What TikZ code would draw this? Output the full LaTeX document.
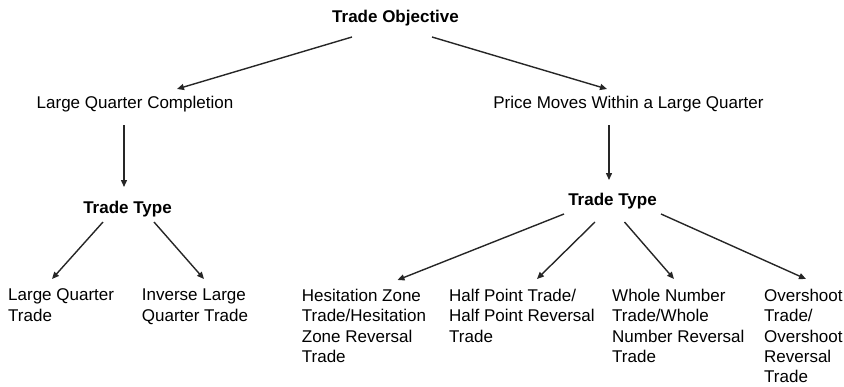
\documentclass[tikz,border=0pt]{standalone}
\usepackage{fontspec}
\setmainfont{Liberation Sans}
\usetikzlibrary{arrows.meta}
\begin{document}
\begin{tikzpicture}[x=1pt,y=-1pt,
  lbl/.style={inner sep=0pt, font=\fontsize{17}{20.4}\selectfont, text=black},
  hd/.style={lbl, font=\fontsize{17}{20.4}\selectfont\bfseries},
  leaf/.style={lbl, align=left, anchor=north west},
  arr/.style={draw=black!85, line width=1.4pt, -{Triangle[length=7pt,width=6pt]}}]
\useasboundingbox (0,0) rectangle (844,386);
\node[hd, anchor=base] (obj) at (395.5,22) {Trade Objective};
\node[lbl, anchor=base] (lqc) at (135,108) {Large Quarter Completion};
\node[lbl, anchor=base] (pmw) at (628.5,108) {Price Moves Within a Large Quarter};
\node[hd, anchor=base] (ttl) at (127.5,213) {Trade Type};
\node[hd, anchor=base] (ttr) at (612.5,205) {Trade Type};
\node[leaf] (lqt) at (8,288.7) {Large Quarter\\Trade};
\node[leaf] (ilq) at (141.7,288.7) {Inverse Large\\Quarter Trade};
\node[leaf] (hes) at (301.7,288.7) {Hesitation Zone\\Trade/Hesitation\\Zone Reversal\\Trade};
\node[leaf] (half) at (449,288.7) {Half Point Trade/\\Half Point Reversal\\Trade};
\node[leaf] (whole) at (612,288.7) {Whole Number\\Trade/Whole\\Number Reversal\\Trade};
\node[leaf] (over) at (764,288.7) {Overshoot\\Trade/\\Overshoot\\Reversal\\Trade};
\draw[arr] ([shift={(-43.5,15)}]obj.base) -- ([shift={(42,-19)}]lqc.base);
\draw[arr] ([shift={(36.5,15)}]obj.base) -- ([shift={(-21.5,-19)}]pmw.base);
\draw[arr] ([shift={(-11,17)}]lqc.base) -- ([shift={(-3.5,-26)}]ttl.base);
\draw[arr] ([shift={(-19.5,17)}]pmw.base) -- ([shift={(-3.5,-25)}]ttr.base);
\draw[arr] ([shift={(-24.5,9)}]ttl.base) -- ([shift={(44,-9.7)}]lqt.north west);
\draw[arr] ([shift={(26.5,9)}]ttl.base) -- ([shift={(62.3,-9.7)}]ilq.north west);
\draw[arr] ([shift={(-48.5,9)}]ttr.base) -- ([shift={(95.8,-8.7)}]hes.north west);
\draw[arr] ([shift={(-17.5,17)}]ttr.base) -- ([shift={(88,-9.7)}]half.north west);
\draw[arr] ([shift={(12,17)}]ttr.base) -- ([shift={(62,-9.7)}]whole.north west);
\draw[arr] ([shift={(48.5,9)}]ttr.base) -- ([shift={(42,-9.7)}]over.north west);
\end{tikzpicture}
\end{document}
